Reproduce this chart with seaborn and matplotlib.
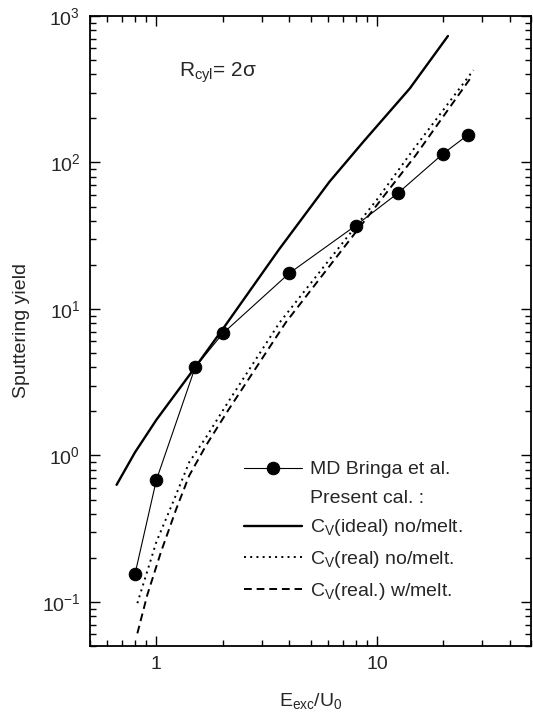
"""
Sputtering yield vs. excitation energy (log-log), MD data vs. present calculations.
"""

import numpy as np
import matplotlib
matplotlib.use("Agg")
import matplotlib.pyplot as plt
import seaborn as sns
from matplotlib.lines import Line2D
from matplotlib.ticker import LogLocator, FuncFormatter, NullFormatter


# ── Data ──────────────────────────────────────────────────────────────────────
md_x = [0.8, 1.0, 1.5, 2.0, 4.0, 8.0, 12.5, 20.0, 26.0]
md_y = [0.155, 0.68, 4.0, 6.8, 17.5, 37.0, 62.0, 115.0, 155.0]

ideal_x = [0.66, 0.8, 1.0, 1.5, 2.04, 3.6, 6.1, 8.7, 14.1, 21.0]
ideal_y = [0.63, 1.05, 1.75, 4.0, 7.6, 25.5, 74.0, 139.0, 320.0, 730.0]

real_x = [0.82, 1.0, 1.19, 1.41, 1.68, 2.11, 3.62, 7.0, 10.0, 14.6, 27.4]
real_y = [0.098, 0.257, 0.48, 0.90, 1.33, 2.3, 8.07, 28.3, 55.7, 122.0, 427.0]

melt_x = [0.82, 0.91, 1.05, 1.23, 1.41, 1.68, 2.11, 3.86, 9.0, 15.0, 26.5]
melt_y = [0.061, 0.112, 0.22, 0.43, 0.73, 1.17, 2.02, 8.07, 41.8, 112.0, 374.0]

LABELS = [
    "MD Bringa et al.",
    "Present cal. :",
    r"C$_{V}$(ideal) no/melt.",
    r"C$_{V}$(real) no/melt.",
    r"C$_{V}$(real.) w/melt.",
]


# ── Style ─────────────────────────────────────────────────────────────────────
sns.set_theme(style="ticks")
plt.rcParams["font.family"] = ["Liberation Sans", "DejaVu Sans"]
plt.rcParams["mathtext.fontset"] = "custom"
plt.rcParams["mathtext.rm"] = "Liberation Sans"
plt.rcParams["mathtext.default"] = "regular"

fig, ax = plt.subplots(figsize=(5.33, 7.19), dpi=100)
fig.subplots_adjust(left=90 / 533, right=531 / 533, bottom=1 - 646 / 719, top=1 - 16 / 719)

common = dict(ax=ax, color="black", sort=False, estimator=None)
sns.lineplot(x=ideal_x, y=ideal_y, lw=1.7, **common)
sns.lineplot(x=real_x, y=real_y, lw=1.4, linestyle=(0, (1, 2.2)), **common)
sns.lineplot(x=melt_x, y=melt_y, lw=1.4, linestyle=(0, (4, 2.5)), **common)
sns.lineplot(x=md_x, y=md_y, lw=0.8, marker="o", markersize=9,
             markeredgecolor="black", markerfacecolor="black", **common)

ax.set_xscale("log")
ax.set_yscale("log")
ax.set_xlim(0.5, 50)
ax.set_ylim(0.05, 1000)

for sp in ax.spines.values():
    sp.set_linewidth(1.3)
    sp.set_color("black")

ax.set_xlabel(r"E$_{exc}$/U$_{0}$", fontsize=14, labelpad=13)
ax.set_ylabel("Sputtering yield", fontsize=14, labelpad=8)

ax.text(0.202, 0.903, r"R$_{cyl}$= 2σ", transform=ax.transAxes, fontsize=15, va="baseline")

# ── Legend ────────────────────────────────────────────────────────────────────
ideal_h, real_h, melt_h, md_h = ax.lines[:4]
header = Line2D([], [], linestyle="none")
ax.legend(handles=[md_h, header, ideal_h, real_h, melt_h], labels=LABELS,
          frameon=False, loc="upper left", bbox_to_anchor=(0.349, 0.294),
          handlelength=3.0, handletextpad=0.4, labelspacing=0.55,
          borderpad=0, borderaxespad=0, fontsize=14)

# ── Ticks ─────────────────────────────────────────────────────────────────────
for axis in (ax.xaxis, ax.yaxis):
    axis.set_major_locator(LogLocator(base=10.0, numticks=20))
    axis.set_minor_locator(LogLocator(base=10.0, subs=(2, 3, 4, 5, 6, 7, 8, 9), numticks=20))
    axis.set_minor_formatter(NullFormatter())
ax.xaxis.set_major_formatter(FuncFormatter(lambda v, p: f"{v:g}"))

ax.tick_params(which="both", direction="in", top=True, right=True,
               bottom=True, left=True, color="black", width=1)
ax.tick_params(which="major", length=7, labelsize=14, pad=7)
ax.tick_params(which="minor", length=4)

# build the ticks, then force the minor tick marks on explicitly
fig.canvas.draw()
for axis in (ax.xaxis, ax.yaxis):
    for t in axis.get_minor_ticks():
        t.set_visible(True)
        for ln in (t.tick1line, t.tick2line):
            ln.set_visible(True)
            ln.set_markersize(4)
            ln.set_markeredgewidth(1)
            ln.set_markeredgecolor("black")
            ln.set_color("black")
            ln.set_alpha(1)
            ln.set_zorder(3)

fig.savefig("out.png", dpi=100)
plt.close(fig)
